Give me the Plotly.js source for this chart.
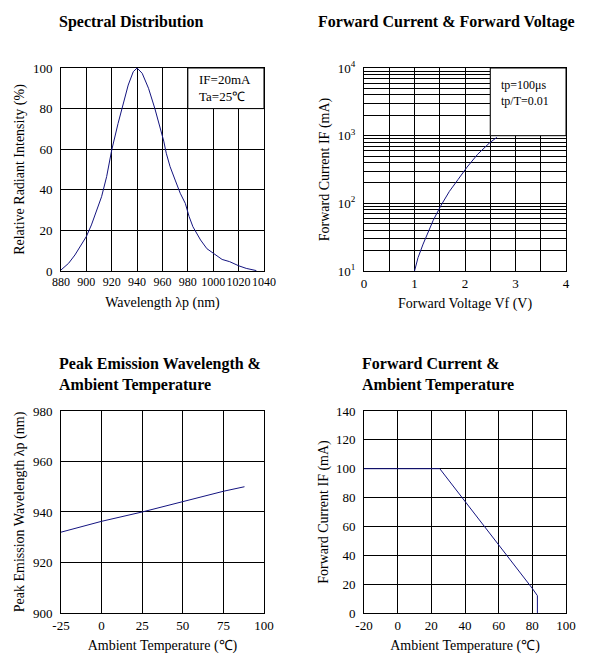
<!DOCTYPE html>
<html>
<head>
<meta charset="utf-8">
<script src="https://cdn.plot.ly/plotly-3.0.1.min.js"></script>
<style>
  body { margin: 0; background: #fff; }
  #chart { width: 592px; height: 670px; }
</style>
</head>
<body>
<div id="chart"></div>
<script>
// spectral distribution
var wavelength = [880, 886, 891, 896, 900, 904, 908, 912, 916, 920, 925, 929, 933, 937, 940,
                  944, 949, 954, 958, 961, 963, 966, 970, 974, 978, 981, 984, 990, 995, 1000,
                  1007, 1013, 1020, 1026, 1034];
var intensity = [0.5, 3.8, 7.9, 12.8, 17, 22.7, 29.2, 36.6, 46.5, 59.6, 72.7, 82.6, 91.6, 98.2, 100,
                 97.4, 90, 80, 71, 64, 58, 51.4, 44.8, 38.3, 33.3, 26.8, 21.8, 15.3, 11, 8.7,
                 5.7, 4.6, 2.6, 1.3, 0.2];

// forward current vs forward voltage
var vf = [1.0, 1.07, 1.17, 1.27, 1.37, 1.52, 1.69, 1.86, 2.04, 2.25, 2.48, 2.63];
var ifVf = [10, 15.8, 25, 36.7, 56, 92, 150, 224, 343, 531, 776, 944];

// peak wavelength vs ambient temperature
var tempPeak = [-25, 0, 25, 50, 75, 88];
var peakWl = [932, 936.3, 940, 944.2, 948.2, 950];

// forward current derating
var tempIf = [-20, 25, 80, 83, 83];
var ifTemp = [100, 100, 17, 12, 0];

// tick labels
var logTicks = [10, 100, 1000, 10000];
var logTickText = ['10<sup>1</sup>', '10<sup>2</sup>', '10<sup>3</sup>', '10<sup>4</sup>'];
var logMinor = [20, 30, 40, 50, 60, 70, 80, 90, 200, 300, 400, 500, 600, 700, 800, 900,
                2000, 3000, 4000, 5000, 6000, 7000, 8000, 9000];
var peakTempTicks = [-25, 0, 25, 50, 75, 100];
var peakTempText = ['-25', '0', '25', '50', '75', '100'];
var ifTempTicks = [-20, 0, 20, 40, 60, 80, 100];
var ifTempText = ['-20', '0', '20', '40', '60', '80', '100'];

var serif = "'Liberation Serif', 'Times New Roman', serif";
var lineColor = '#141480';

function axis(extra) {
  var a = {
    showline: true, mirror: true, linecolor: '#000', linewidth: 1,
    showgrid: true, gridcolor: '#000', gridwidth: 1,
    zeroline: false, ticks: '', tickangle: 0,
    tickfont: { family: serif, size: 13, color: '#000' },
    title: { font: { family: serif, size: 14, color: '#000' } }
  };
  for (var k in extra) {
    if (k === 'title') { a.title.text = extra[k].text; a.title.standoff = extra[k].standoff; }
    else a[k] = extra[k];
  }
  return a;
}

// y axes: invisible outside ticks push the labels off the frame
var yTicks = { ticks: 'outside', ticklen: 5, tickcolor: 'rgba(255,255,255,0)' };

var traces = [
  { x: wavelength, y: intensity, xaxis: 'x', yaxis: 'y', type: 'scatter', mode: 'lines',
    line: { color: lineColor, width: 1 } },
  { x: vf, y: ifVf, xaxis: 'x2', yaxis: 'y2', type: 'scatter', mode: 'lines',
    line: { color: lineColor, width: 1 } },
  { x: tempPeak, y: peakWl, xaxis: 'x3', yaxis: 'y3', type: 'scatter', mode: 'lines',
    line: { color: lineColor, width: 1 } },
  { x: tempIf, y: ifTemp, xaxis: 'x4', yaxis: 'y4', type: 'scatter', mode: 'lines',
    line: { color: lineColor, width: 1 } }
];

var top_ = [0.5955, 0.8985], bot_ = [0.0851, 0.3866];
var left_ = [0.1030, 0.4459], right_ = [0.6149, 0.9561];
var titleFont = { family: serif, size: 16, color: '#000', weight: 'bold' };

function yax(extra) {
  for (var k in yTicks) extra[k] = yTicks[k];
  return axis(extra);
}

var layout = {
  width: 592, height: 670,
  margin: { l: 0, r: 0, t: 0, b: 0 },
  paper_bgcolor: '#fff', plot_bgcolor: '#fff',
  showlegend: false,
  font: { family: serif, color: '#000' },

  xaxis: axis({ domain: left_, anchor: 'y', range: [880, 1040], dtick: 20,
                tickfont: { family: serif, size: 12, color: '#000' },
                title: { text: 'Wavelength λp (nm)', standoff: 8 } }),
  yaxis: yax({ domain: top_, anchor: 'x', range: [0, 100], dtick: 20,
               title: { text: 'Relative Radiant Intensity (%)', standoff: 4 } }),

  xaxis2: axis({ domain: right_, anchor: 'y2', range: [0, 4], dtick: 1,
                 minor: { dtick: 0.5, showgrid: true, gridcolor: '#000', gridwidth: 1, ticks: '' },
                 title: { text: 'Forward Voltage Vf (V)', standoff: 8 } }),
  yaxis2: yax({ domain: top_, anchor: 'x2', type: 'log', range: [1, 4],
                tickmode: 'array', tickvals: logTicks, ticktext: logTickText,
                minor: { tickmode: 'array', tickvals: logMinor, showgrid: true,
                         gridcolor: '#000', gridwidth: 1, ticks: '' },
                title: { text: 'Forward Current IF (mA)', standoff: 4 } }),

  xaxis3: axis({ domain: left_, anchor: 'y3', range: [-25, 100],
                 tickmode: 'array', tickvals: peakTempTicks, ticktext: peakTempText,
                 title: { text: 'Ambient Temperature (℃)', standoff: 8 } }),
  yaxis3: yax({ domain: bot_, anchor: 'x3', range: [900, 980], dtick: 20,
                title: { text: 'Peak Emission Wavelength λp (nm)', standoff: 4 } }),

  xaxis4: axis({ domain: right_, anchor: 'y4', range: [-20, 100],
                 tickmode: 'array', tickvals: ifTempTicks, ticktext: ifTempText,
                 title: { text: 'Ambient Temperature (℃)', standoff: 8 } }),
  yaxis4: yax({ domain: bot_, anchor: 'x4', range: [0, 140], dtick: 20,
                title: { text: 'Forward Current IF (mA)', standoff: 4 } }),

  shapes: [
    { type: 'rect', xref: 'x', yref: 'y', x0: 980, x1: 1040, y0: 80, y1: 100,
      fillcolor: '#fff', line: { color: '#000', width: 1 }, layer: 'above' },
    { type: 'rect', xref: 'x2', yref: 'y2', x0: 2.5, x1: 4, y0: 1000, y1: 10000,
      fillcolor: '#fff', line: { color: '#000', width: 1 }, layer: 'above' }
  ],

  annotations: [
    { text: 'Spectral Distribution', xref: 'paper', yref: 'paper', x: 57 / 592, y: 1 - 22 / 670,
      xanchor: 'left', yanchor: 'middle', showarrow: false, align: 'left', font: titleFont },
    { text: 'Forward Current & Forward Voltage', xref: 'paper', yref: 'paper', x: 316 / 592, y: 1 - 22 / 670,
      xanchor: 'left', yanchor: 'middle', showarrow: false, align: 'left', font: titleFont },
    { text: 'Peak Emission Wavelength &<br>Ambient Temperature', xref: 'paper', yref: 'paper',
      x: 57 / 592, y: 1 - 374 / 670, xanchor: 'left', yanchor: 'middle', showarrow: false, align: 'left',
      font: titleFont },
    { text: 'Forward Current &<br>Ambient Temperature', xref: 'paper', yref: 'paper',
      x: 360 / 592, y: 1 - 374 / 670, xanchor: 'left', yanchor: 'middle', showarrow: false, align: 'left',
      font: titleFont },
    { text: 'IF=20mA<br>Ta=25℃', xref: 'x', yref: 'y', x: 987, y: 90,
      xanchor: 'left', yanchor: 'middle', showarrow: false, align: 'left',
      font: { family: serif, size: 13, color: '#000' } },
    { text: 'tp=100μs<br>tp/T=0.01', xref: 'x2', yref: 'y2', x: 2.68, y: 3.63,
      xanchor: 'left', yanchor: 'middle', showarrow: false, align: 'left',
      font: { family: serif, size: 12, color: '#000' } }
  ]
};

Plotly.newPlot('chart', traces, layout, { displayModeBar: false, staticPlot: true });
</script>
</body>
</html>
